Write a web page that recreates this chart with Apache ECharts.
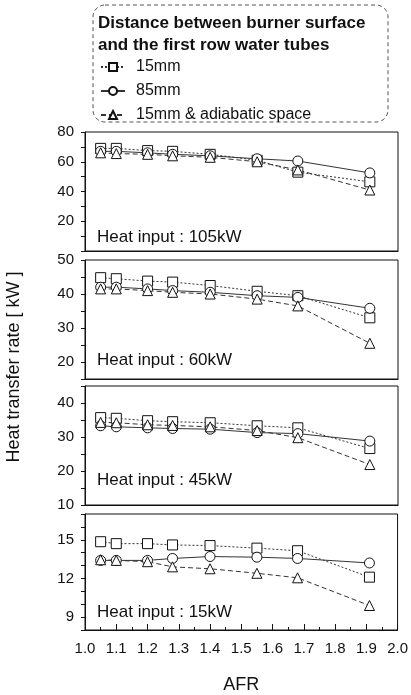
<!DOCTYPE html>
<html>
<head>
<meta charset="utf-8">
<script src="https://cdn.jsdelivr.net/npm/echarts@6/dist/echarts.min.js"></script>
<style>
  html, body { margin: 0; padding: 0; background: #fff; }
  #chart { width: 411px; height: 695px; }
</style>
</head>
<body>
<div id="chart"></div>
<script>
// AFR values shared by every panel
const afr = [1.05, 1.1, 1.2, 1.28, 1.4, 1.55, 1.68, 1.91];

const seriesNames = ['15mm', '85mm', '15mm & adiabatic space'];

// heat input 105kW
const q105_15mm = [69, 69, 67.5, 67, 65, 61, 53, 46.5];
const q105_85mm = [67, 67, 66, 65, 64, 62, 60.5, 52.5];
const q105_adia = [66, 65.5, 65, 64, 63, 60, 54.5, 41];

// heat input 60kW
const q60_15mm = [44.8, 44.5, 43.8, 43.5, 42.5, 40.8, 39.5, 33];
const q60_85mm = [42, 42, 41.5, 41, 40.5, 39.5, 39, 35.8];
const q60_adia = [41.5, 41.5, 41, 40.5, 40, 38.5, 36.5, 25.5];

// heat input 45kW
const q45_15mm = [35.7, 35.5, 34.8, 34.5, 34.2, 33.3, 32.7, 26.6];
const q45_85mm = [33.3, 33, 32.7, 32.5, 32.3, 31.3, 31, 28.8];
const q45_adia = [34.3, 34.2, 33.6, 33.4, 33, 31.9, 29.8, 21.9];

// heat input 15kW
const q15_15mm = [14.85, 14.7, 14.7, 14.6, 14.55, 14.35, 14.15, 12.1];
const q15_85mm = [13.4, 13.4, 13.4, 13.55, 13.7, 13.65, 13.55, 13.2];
const q15_adia = [13.45, 13.4, 13.3, 12.9, 12.75, 12.4, 12.05, 9.9];

const panelLabels = ['Heat input : 105kW', 'Heat input : 60kW', 'Heat input : 45kW', 'Heat input : 15kW'];
const panelData = [
  [q105_15mm, q105_85mm, q105_adia],
  [q60_15mm, q60_85mm, q60_adia],
  [q45_15mm, q45_85mm, q45_adia],
  [q15_15mm, q15_85mm, q15_adia],
];

// y axis ranges and tick labels
const yMin = [0, 15, 10, 8];
const yMax = [80, 50, 45, 17];
const yStep = [10, 5, 5, 1];
const yLabelEvery = [20, 10, 10, 3];

const xTicksMin = 1.0;
const xTicksMax = 2.0;

const FONT = '"Liberation Sans", Arial, sans-serif';
const INK = '#111';

const gridTops = [132, 260, 386, 514];
const gridHeights = [119, 119, 119, 117];
const labelY = [237, 360, 480, 612];

const seriesStyle = [
  { symbol: 'rect', lineType: [2, 2] },
  { symbol: 'circle', lineType: 'solid' },
  { symbol: 'triangle', lineType: [5, 3] },
];

const chart = echarts.init(document.getElementById('chart'));

const grids = [];
const xAxes = [];
const yAxes = [];
const series = [];
const graphics = [];

panelData.forEach((panel, i) => {
  const last = i === panelData.length - 1;
  grids.push({
    left: 85,
    right: 13,
    top: gridTops[i],
    height: gridHeights[i],
    show: true,
    borderColor: INK,
    borderWidth: 1,
  });
  xAxes.push({
    type: 'value',
    gridIndex: i,
    min: xTicksMin,
    max: xTicksMax,
    interval: 0.1,
    axisLine: { lineStyle: { color: INK } },
    splitLine: { show: false },
    axisTick: { show: last, inside: true, length: 6, lineStyle: { color: INK } },
    minorTick: { show: last, splitNumber: 2, length: 3, lineStyle: { color: INK } },
    axisLabel: {
      show: last,
      margin: 11,
      color: INK,
      fontSize: 15,
      fontFamily: FONT,
      formatter: v => v.toFixed(1),
    },
    name: last ? 'AFR' : '',
    nameLocation: 'middle',
    nameGap: 46,
    nameTextStyle: { color: INK, fontSize: 18, fontFamily: FONT },
  });
  yAxes.push({
    type: 'value',
    gridIndex: i,
    min: yMin[i],
    max: yMax[i],
    interval: yStep[i],
    axisLine: { show: true, lineStyle: { color: INK } },
    splitLine: { show: false },
    axisTick: { show: true, length: 4, lineStyle: { color: INK } },
    axisLabel: {
      margin: 11,
      color: INK,
      fontSize: 15,
      fontFamily: FONT,
      formatter: v => (v > 0 && v % yLabelEvery[i] === 0 ? String(v) : ''),
    },
  });
  panel.forEach((vals, k) => {
    series.push({
      name: seriesNames[k],
      type: 'line',
      xAxisIndex: i,
      yAxisIndex: i,
      data: afr.map((x, j) => [x, vals[j]]),
      symbol: seriesStyle[k].symbol,
      symbolSize: 10,
      lineStyle: { color: '#333', width: 1, type: seriesStyle[k].lineType },
      itemStyle: { color: '#fff', borderColor: INK, borderWidth: 1 },
      emphasis: { disabled: true },
      animation: false,
    });
  });
  graphics.push({
    type: 'text',
    x: 97,
    y: labelY[i],
    style: {
      text: panelLabels[i],
      font: '17px ' + FONT,
      fill: INK,
      textVerticalAlign: 'middle',
    },
  });
});

// legend frame
graphics.push({
  type: 'rect',
  z: -1,
  shape: { x: 93, y: 5, width: 295, height: 117, r: 12 },
  style: { fill: 'none', stroke: '#555', lineWidth: 1, lineDash: [4, 3] },
});

// y axis title
graphics.push({
  type: 'text',
  x: 14,
  y: 367,
  rotation: Math.PI / 2,
  style: {
    text: 'Heat transfer rate [ kW ]',
    font: '18px ' + FONT,
    fill: INK,
    textAlign: 'center',
    textVerticalAlign: 'middle',
  },
});

const option = {
  animation: false,
  title: {
    text: 'Distance between burner surface\nand the first row water tubes',
    left: 98,
    top: 12,
    padding: 0,
    textStyle: { color: INK, fontSize: 17, fontWeight: 'bold', fontFamily: FONT, lineHeight: 22 },
  },
  legend: {
    data: seriesNames,
    orient: 'vertical',
    left: 100,
    top: 59,
    padding: 0,
    itemWidth: 24,
    itemHeight: 10,
    itemGap: 8,
    textStyle: { color: INK, fontSize: 16, fontFamily: FONT, padding: [0, 0, 0, 6] },
  },
  grid: grids,
  xAxis: xAxes,
  yAxis: yAxes,
  series: series,
  graphic: graphics,
};

chart.setOption(option);
</script>
</body>
</html>
